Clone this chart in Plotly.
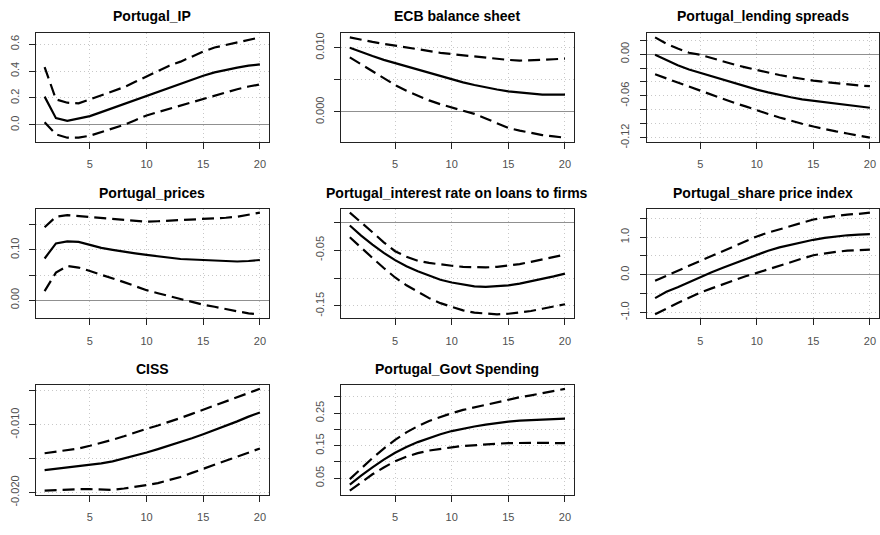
import plotly.graph_objects as go

# ---------------- data (impulse responses, horizons 1..20) ----------------
horizon = list(range(1, 21))

titles = ["Portugal_IP", "ECB balance sheet", "Portugal_lending spreads",
          "Portugal_prices", "Portugal_interest rate on loans to firms",
          "Portugal_share price index", "CISS", "Portugal_Govt Spending"]

ip_mid = [0.21, 0.05, 0.03, 0.045, 0.065, 0.095, 0.125, 0.155, 0.185, 0.215,
          0.245, 0.28, 0.31, 0.34, 0.365, 0.39, 0.41, 0.425, 0.44, 0.45]
ip_up = [0.43, 0.19, 0.165, 0.16, 0.19, 0.22, 0.25, 0.28, 0.32, 0.36,
         0.40, 0.44, 0.47, 0.51, 0.545, 0.575, 0.595, 0.615, 0.635, 0.65]
ip_lo = [0.02, -0.07, -0.095, -0.095, -0.08, -0.055, -0.03, 0.0, 0.035, 0.07,
         0.095, 0.12, 0.145, 0.17, 0.195, 0.22, 0.245, 0.265, 0.285, 0.30]

ecb_mid = [0.0100, 0.0093, 0.0087, 0.0081, 0.0076, 0.0070, 0.0065, 0.0060, 0.0055, 0.0050,
           0.0046, 0.0042, 0.0038, 0.0035, 0.0032, 0.0030, 0.0028, 0.0027, 0.0027, 0.0027]
ecb_up = [0.0116, 0.0112, 0.0109, 0.0106, 0.0103, 0.0100, 0.0097, 0.0094, 0.0092, 0.0090,
          0.0088, 0.0086, 0.0084, 0.0082, 0.0081, 0.0080, 0.0080, 0.0081, 0.0082, 0.0083]
ecb_lo = [0.0085, 0.0074, 0.0063, 0.0052, 0.0042, 0.0033, 0.0025, 0.0018, 0.0012, 0.0007,
          0.0002, -0.0003, -0.0010, -0.0018, -0.0025, -0.0029, -0.0033, -0.0036, -0.0038, -0.0040]

spr_mid = [-0.001, -0.009, -0.016, -0.022, -0.027, -0.032, -0.037, -0.042, -0.047, -0.051,
           -0.055, -0.059, -0.062, -0.065, -0.067, -0.069, -0.071, -0.073, -0.075, -0.077]
spr_up = [0.024, 0.015, 0.008, 0.002, -0.001, -0.006, -0.010, -0.015, -0.019, -0.023,
          -0.027, -0.030, -0.033, -0.036, -0.038, -0.040, -0.042, -0.043, -0.045, -0.046]
spr_lo = [-0.029, -0.035, -0.041, -0.046, -0.052, -0.058, -0.064, -0.070, -0.075, -0.081,
          -0.086, -0.091, -0.096, -0.100, -0.104, -0.108, -0.111, -0.114, -0.117, -0.120]

prc_mid = [0.083, 0.113, 0.117, 0.116, 0.110, 0.104, 0.100, 0.096, 0.093, 0.090,
           0.087, 0.085, 0.082, 0.081, 0.080, 0.078, 0.077, 0.077, 0.078, 0.080]
prc_up = [0.145, 0.166, 0.169, 0.167, 0.165, 0.163, 0.161, 0.159, 0.157, 0.156,
          0.157, 0.158, 0.159, 0.160, 0.161, 0.162, 0.164, 0.166, 0.170, 0.174]
prc_lo = [0.018, 0.055, 0.068, 0.065, 0.058, 0.051, 0.044, 0.036, 0.028, 0.020,
          0.014, 0.008, 0.002, -0.004, -0.009, -0.013, -0.018, -0.022, -0.026, -0.028]

irf_mid = [-0.006, -0.024, -0.040, -0.055, -0.068, -0.079, -0.088, -0.096, -0.103, -0.108,
           -0.112, -0.115, -0.116, -0.115, -0.113, -0.110, -0.106, -0.102, -0.097, -0.092]
irf_up = [0.017, 0.000, -0.018, -0.036, -0.052, -0.062, -0.069, -0.073, -0.076, -0.078,
          -0.080, -0.081, -0.081, -0.080, -0.078, -0.075, -0.071, -0.067, -0.063, -0.058]
irf_lo = [-0.027, -0.046, -0.064, -0.082, -0.099, -0.113, -0.125, -0.136, -0.145, -0.152,
          -0.158, -0.162, -0.164, -0.165, -0.164, -0.162, -0.159, -0.155, -0.151, -0.147]

shr_mid = [-0.62, -0.45, -0.33, -0.19, -0.05, 0.07, 0.19, 0.30, 0.42, 0.54,
           0.64, 0.73, 0.80, 0.87, 0.93, 0.98, 1.02, 1.05, 1.07, 1.08]
shr_up = [-0.16, -0.02, 0.11, 0.24, 0.37, 0.50, 0.63, 0.76, 0.89, 1.02,
          1.12, 1.21, 1.30, 1.39, 1.47, 1.52, 1.56, 1.60, 1.62, 1.65]
shr_lo = [-1.05, -0.89, -0.75, -0.61, -0.47, -0.36, -0.25, -0.14, -0.04, 0.05,
          0.15, 0.24, 0.33, 0.43, 0.52, 0.57, 0.61, 0.64, 0.66, 0.67]

ciss_mid = [-0.0167, -0.0165, -0.0164, -0.0162, -0.0160, -0.0157, -0.0154, -0.0150, -0.0146, -0.0141,
            -0.0136, -0.0131, -0.0126, -0.0120, -0.0114, -0.0108, -0.0101, -0.0095, -0.0088, -0.0082]
ciss_up = [-0.0142, -0.0140, -0.0138, -0.0135, -0.0131, -0.0127, -0.0122, -0.0117, -0.0111, -0.0106,
           -0.0101, -0.0096, -0.0090, -0.0084, -0.0078, -0.0072, -0.0066, -0.0059, -0.0053, -0.0047]
ciss_lo = [-0.0197, -0.0196, -0.0196, -0.0195, -0.0195, -0.0196, -0.0196, -0.0194, -0.0192, -0.0189,
           -0.0186, -0.0182, -0.0177, -0.0171, -0.0165, -0.0159, -0.0153, -0.0147, -0.0141, -0.0135]

gov_mid = [0.030, 0.058, 0.083, 0.107, 0.128, 0.146, 0.161, 0.174, 0.185, 0.195,
           0.203, 0.209, 0.215, 0.220, 0.224, 0.227, 0.229, 0.231, 0.232, 0.233]
gov_up = [0.047, 0.080, 0.112, 0.141, 0.168, 0.191, 0.210, 0.226, 0.239, 0.250,
          0.260, 0.268, 0.276, 0.284, 0.292, 0.299, 0.305, 0.312, 0.318, 0.325]
gov_lo = [0.012, 0.038, 0.062, 0.083, 0.102, 0.116, 0.127, 0.135, 0.141, 0.145,
          0.149, 0.152, 0.154, 0.156, 0.158, 0.159, 0.159, 0.159, 0.158, 0.158]

# tick values / labels
x_ticks = [5, 10, 15, 20]
ip_tv, ip_tt = [0.0, 0.2, 0.4, 0.6], ["0.0", "0.2", "0.4", "0.6"]
ecb_tv, ecb_tt = [0.0, 0.005, 0.010], ["0.000", "", "0.010"]
spr_tv = [0.02, 0.0, -0.02, -0.04, -0.06, -0.08, -0.10, -0.12]
spr_tt = ["", "0.00", "", "", "-0.06", "", "", "-0.12"]
prc_tv, prc_tt = [0.0, 0.05, 0.10, 0.15], ["0.00", "", "0.10", ""]
irf_tv, irf_tt = [0.0, -0.05, -0.10, -0.15], ["", "-0.05", "", "-0.15"]
shr_tv = [-1.0, -0.5, 0.0, 0.5, 1.0, 1.5]
shr_tt = ["-1.0", "", "0.0", "", "1.0", ""]
ciss_tv = [-0.020, -0.015, -0.010, -0.005]
ciss_tt = ["-0.020", "", "-0.010", ""]
gov_tv = [0.05, 0.10, 0.15, 0.20, 0.25, 0.30]
gov_tt = ["0.05", "", "0.15", "", "0.25", ""]

panels = [
    (ip_mid, ip_up, ip_lo, ip_tv, ip_tt),
    (ecb_mid, ecb_up, ecb_lo, ecb_tv, ecb_tt),
    (spr_mid, spr_up, spr_lo, spr_tv, spr_tt),
    (prc_mid, prc_up, prc_lo, prc_tv, prc_tt),
    (irf_mid, irf_up, irf_lo, irf_tv, irf_tt),
    (shr_mid, shr_up, shr_lo, shr_tv, shr_tt),
    (ciss_mid, ciss_up, ciss_lo, ciss_tv, ciss_tt),
    (gov_mid, gov_up, gov_lo, gov_tv, gov_tt),
]

# ---------------- layout geometry (pixels) ----------------
W, H = 880, 535
col_px = [(36, 268.5), (341.2, 573.6), (646.5, 878.5)]
row_px = [(33.2, 144.2), (212.8, 325.3), (393.3, 505.9)]
title_px = [15.0, 196.5, 377.5]

FONT = "Liberation Sans, Arial, sans-serif"
tick_font = dict(family=FONT, size=11, color="#505050")

fig = go.Figure()
layout = dict(
    width=W, height=H, margin=dict(l=0, r=0, t=0, b=0),
    paper_bgcolor="white", plot_bgcolor="white", showlegend=False,
    annotations=[],
)

def pad(lo, hi, f=0.04):
    s = hi - lo
    return [lo - f * s, hi + f * s]

for i, (mid, up, lo, tv, tt) in enumerate(panels):
    r, c = divmod(i, 3)
    k = "" if i == 0 else str(i + 1)
    xa, ya = "x" + k, "y" + k
    x0, x1 = col_px[c]
    y0, y1 = row_px[r]
    dom_x = [x0 / W, x1 / W]
    dom_y = [1 - y1 / H, 1 - y0 / H]

    for series, dash in ((lo, "12px,6px"), (up, "12px,6px"), (mid, "solid")):
        fig.add_trace(go.Scatter(
            x=horizon, y=series, mode="lines", xaxis=xa, yaxis=ya,
            line=dict(color="black", width=2.2, dash=dash), hoverinfo="skip"))

    ymin = min(min(lo), min(mid), min(up))
    ymax = max(max(lo), max(mid), max(up))

    common = dict(showline=True, mirror=True, linecolor="#222222", linewidth=1,
                  ticks="outside", ticklen=6, tickwidth=1, tickcolor="#222222",
                  tickfont=tick_font, showgrid=True, gridcolor="#c8c8c8",
                  gridwidth=1, griddash="1px,3px")
    layout["xaxis" + k] = dict(domain=dom_x, anchor=ya,
                               range=pad(min(horizon), max(horizon)),
                               tickvals=x_ticks, ticktext=[str(v) for v in x_ticks],
                               zeroline=False, ticklabelstandoff=6, **common)
    layout["yaxis" + k] = dict(domain=dom_y, anchor=xa, range=pad(ymin, ymax),
                               tickvals=tv, ticktext=tt, tickangle=-90,
                               zeroline=True, zerolinecolor="#909090",
                               zerolinewidth=1, ticklabelstandoff=6, **common)
    layout["annotations"].append(dict(
        text="<b>" + titles[i] + "</b>", xref="paper", yref="paper",
        x=(x0 + x1) / 2 / W, y=1 - title_px[r] / H, xanchor="center",
        yanchor="middle", showarrow=False,
        font=dict(family=FONT, size=14, color="black")))

fig.update_layout(**layout)
fig.write_html("out.html")
